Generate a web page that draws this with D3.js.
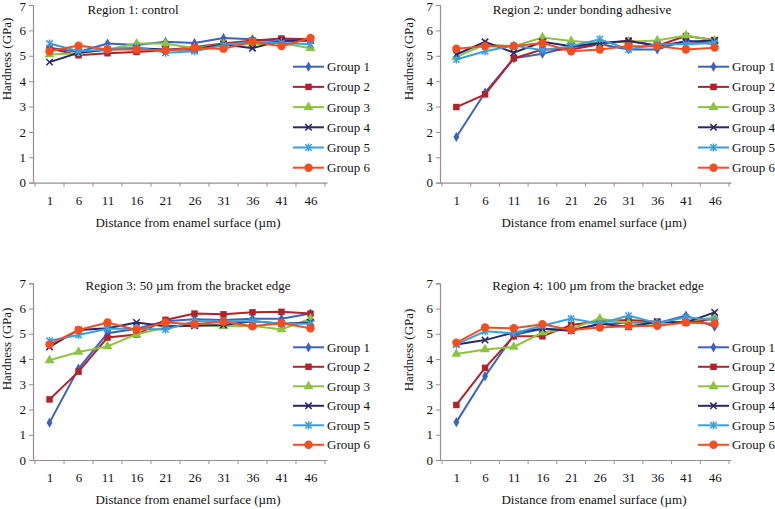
<!DOCTYPE html>
<html><head><meta charset="utf-8">
<script src="https://cdn.jsdelivr.net/npm/d3@7"></script>
<style>body{margin:0;background:#fff}svg{display:block}text{font-family:"Liberation Serif","Times New Roman",serif;fill:#111}</style>
</head><body><svg id="c" width="775" height="509"></svg>
<script>
const categories = [1, 6, 11, 16, 21, 26, 31, 36, 41, 46];
const groups = ["Group 1", "Group 2", "Group 3", "Group 4", "Group 5", "Group 6"];
const yTicks = [0, 1, 2, 3, 4, 5, 6, 7];
const titles = ["Region 1: control", "Region 2: under bonding adhesive",
  "Region 3: 50 \u00b5m from the bracket edge", "Region 4: 100 \u00b5m from the bracket edge"];
const xTitle = "Distance from enamel surface (\u00b5m)";
const yTitle = "Hardness (GPa)";

const region1 = [
  [5.32, 5.15, 5.48, 5.42, 5.55, 5.50, 5.70, 5.65, 5.55, 5.60],
  [5.30, 5.02, 5.10, 5.15, 5.22, 5.35, 5.48, 5.60, 5.68, 5.65],
  [5.05, 5.10, 5.25, 5.48, 5.48, 5.30, 5.45, 5.45, 5.50, 5.30],
  [4.75, 5.12, 5.25, 5.30, 5.25, 5.25, 5.45, 5.30, 5.60, 5.60],
  [5.48, 5.18, 5.25, 5.35, 5.12, 5.18, 5.42, 5.55, 5.50, 5.45],
  [5.18, 5.40, 5.25, 5.25, 5.22, 5.30, 5.28, 5.55, 5.38, 5.70]
];
const region2 = [
  [1.80, 3.55, 4.90, 5.08, 5.35, 5.45, 5.25, 5.25, 5.60, 5.45],
  [2.98, 3.48, 4.90, 5.25, 5.25, 5.45, 5.60, 5.40, 5.78, 5.62],
  [4.95, 5.45, 5.38, 5.72, 5.58, 5.50, 5.55, 5.60, 5.80, 5.60],
  [5.05, 5.55, 5.12, 5.55, 5.38, 5.50, 5.58, 5.40, 5.55, 5.60],
  [4.85, 5.18, 5.40, 5.22, 5.38, 5.65, 5.25, 5.45, 5.45, 5.50],
  [5.28, 5.38, 5.38, 5.50, 5.18, 5.25, 5.38, 5.38, 5.25, 5.32]
];
const region3 = [
  [1.48, 3.62, 5.02, 5.20, 5.50, 5.58, 5.55, 5.60, 5.60, 5.80],
  [2.40, 3.50, 4.85, 4.97, 5.55, 5.80, 5.77, 5.85, 5.87, 5.80],
  [3.95, 4.28, 4.50, 4.98, 5.25, 5.35, 5.30, 5.32, 5.17, 5.60],
  [4.48, 5.15, 5.22, 5.45, 5.30, 5.32, 5.35, 5.50, 5.40, 5.45],
  [4.72, 4.95, 5.20, 5.20, 5.17, 5.50, 5.50, 5.50, 5.40, 5.40],
  [4.58, 5.15, 5.45, 5.15, 5.45, 5.38, 5.48, 5.30, 5.42, 5.22]
];
const region4 = [
  [1.50, 3.32, 4.95, 5.20, 5.15, 5.38, 5.45, 5.42, 5.72, 5.28],
  [2.18, 3.65, 4.90, 4.90, 5.35, 5.50, 5.55, 5.48, 5.45, 5.60],
  [4.20, 4.38, 4.48, 5.05, 5.20, 5.60, 5.42, 5.40, 5.50, 5.65],
  [4.58, 4.75, 5.05, 5.20, 5.12, 5.40, 5.28, 5.48, 5.45, 5.85],
  [4.58, 5.10, 5.02, 5.32, 5.60, 5.40, 5.72, 5.42, 5.65, 5.55],
  [4.65, 5.25, 5.22, 5.38, 5.15, 5.25, 5.30, 5.32, 5.45, 5.40]
];
const regions = [region1, region2, region3, region4];

const colors = ["#3a62c0", "#b0232b", "#8dc43f", "#2a276b", "#3a9fe0", "#f44d22"];
const markerTypes = ["diamond", "square", "triangle", "x", "star", "circle"];

const panels = [
  {x0: 33, x1: 327, yTop: 5, yBot: 182.7, title: [133, 14], xt: [188, 227], yt: [11, 59], leg: [293, 66.7, 20.2]},
  {x0: 440, x1: 731, yTop: 5, yBot: 182.7, title: [582, 14], xt: [594, 227], yt: [413, 59], leg: [698, 66.7, 20.2]},
  {x0: 33, x1: 327, yTop: 283.3, yBot: 460, title: [188, 290], xt: [188, 504], yt: [11, 349], leg: [293, 347.3, 19.5]},
  {x0: 440, x1: 731, yTop: 283.3, yBot: 460, title: [598, 290], xt: [594, 504], yt: [413, 350], leg: [698, 347.3, 19.5]}
];

const svg = d3.select("#c");
const axisColor = "#9c8c96";

function drawMarker(g, type, cx, cy, color) {
  if (type === "diamond") {
    g.append("path").attr("d", d3.symbol(d3.symbolDiamond, 30)()).attr("transform", `translate(${cx},${cy})`).attr("fill", color);
  } else if (type === "square") {
    g.append("path").attr("d", d3.symbol(d3.symbolSquare, 42)()).attr("transform", `translate(${cx},${cy})`).attr("fill", color);
  } else if (type === "triangle") {
    g.append("path").attr("d", d3.symbol(d3.symbolTriangle, 42)()).attr("transform", `translate(${cx},${cy})`).attr("fill", color);
  } else if (type === "x") {
    const s = 3.2;
    g.append("path").attr("d", `M${cx-s},${cy-s}L${cx+s},${cy+s}M${cx-s},${cy+s}L${cx+s},${cy-s}`).attr("stroke", color).attr("stroke-width", 1.5).attr("fill", "none");
  } else if (type === "star") {
    const s = 3.2;
    g.append("path").attr("d", `M${cx-s},${cy-s}L${cx+s},${cy+s}M${cx-s},${cy+s}L${cx+s},${cy-s}M${cx},${cy-s-0.8}L${cx},${cy+s+0.8}`).attr("stroke", color).attr("stroke-width", 1.5).attr("fill", "none");
  } else {
    g.append("circle").attr("cx", cx).attr("cy", cy).attr("r", 4.2).attr("fill", color);
  }
}

panels.forEach((p, i) => {
  const g = svg.append("g");
  const x = d3.scalePoint().domain(categories).range([p.x0, p.x1]).padding(0.57);
  const y = d3.scaleLinear().domain([0, 7]).range([p.yBot, p.yTop]);

  const ya = g.append("g").attr("transform", `translate(${p.x0},0)`)
    .call(d3.axisLeft(y).tickValues(yTicks).tickSize(4).tickPadding(3).tickFormat(d3.format("d")));
  ya.select(".domain").attr("stroke", axisColor).attr("stroke-width", 1.2);
  ya.selectAll(".tick line").attr("stroke", axisColor);
  ya.selectAll(".tick text").style("font-size", "13px").style("font-family", '"Liberation Serif",serif').attr("fill", "#111")
    .attr("dy", d => (d === 7 && p.yTop < 10) ? "0.42em" : "0.32em");

  const xa = g.append("g").attr("transform", `translate(0,${p.yBot})`)
    .call(d3.axisBottom(x).tickSize(0).tickPadding(13));
  xa.select(".domain").attr("stroke", axisColor).attr("stroke-width", 1.2);
  xa.selectAll(".tick text").style("font-size", "13px").style("font-family", '"Liberation Serif",serif').attr("fill", "#111");
  const step = x.step();
  g.selectAll(".xb").data(categories.concat(["end"])).enter().append("line")
    .attr("x1", (d, k) => (k < categories.length ? x(d) - step / 2 : x(categories[categories.length - 1]) + step / 2))
    .attr("x2", (d, k) => (k < categories.length ? x(d) - step / 2 : x(categories[categories.length - 1]) + step / 2))
    .attr("y1", p.yBot).attr("y2", p.yBot + 4).attr("stroke", axisColor);

  const data = regions[i];
  const line = d3.line().x((d, k) => x(categories[k])).y(d => y(d));
  data.forEach((vals, gi) => {
    g.append("path").datum(vals).attr("d", line).attr("fill", "none")
      .attr("stroke", colors[gi]).attr("stroke-width", 2);
    vals.forEach((v, k) => drawMarker(g, markerTypes[gi], x(categories[k]), y(v), colors[gi]));
  });

  g.append("text").attr("x", p.title[0]).attr("y", p.title[1]).attr("text-anchor", "middle")
    .style("font-size", "13px").text(titles[i]);
  g.append("text").attr("x", p.xt[0]).attr("y", p.xt[1]).attr("text-anchor", "middle")
    .style("font-size", "13px").text(xTitle);
  g.append("text").attr("transform", `translate(${p.yt[0]},${p.yt[1]}) rotate(-90)`).attr("text-anchor", "middle")
    .style("font-size", "13px").text(yTitle);

  groups.forEach((name, gi) => {
    const ly = p.leg[1] + gi * p.leg[2];
    const lx = p.leg[0];
    g.append("line").attr("x1", lx).attr("x2", lx + 31).attr("y1", ly).attr("y2", ly)
      .attr("stroke", colors[gi]).attr("stroke-width", 2);
    drawMarker(g, markerTypes[gi], lx + 15.5, ly, colors[gi]);
    g.append("text").attr("x", lx + 34).attr("y", ly + 4.5).style("font-size", "13px").text(name);
  });
});
</script></body></html>
